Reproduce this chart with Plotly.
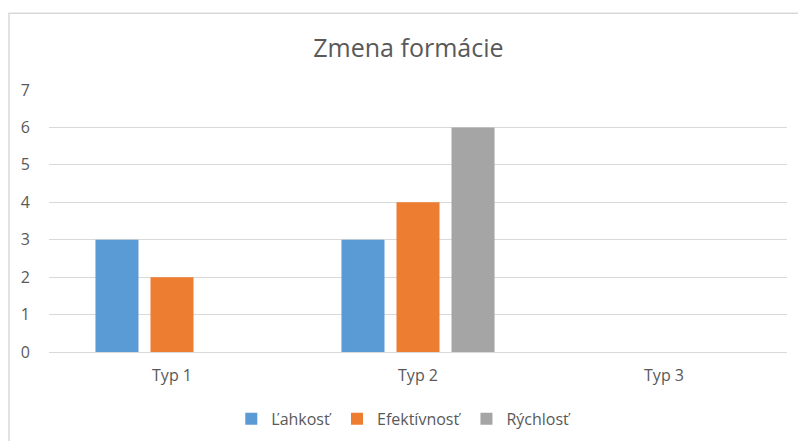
import plotly.graph_objects as go

# Data
categories = ["Typ 1", "Typ 2", "Typ 3"]
lahkost = [3, 3, None]
efektivnost = [2, 4, None]
rychlost = [None, 6, None]

TEXT = "#595959"
GRID = "#d9d9d9"
FONT = "Open Sans"

fig = go.Figure()

fig.add_trace(go.Bar(x=categories, y=lahkost, name="Ľahkosť",
                     marker=dict(color="#5B9BD5", line=dict(width=0))))
fig.add_trace(go.Bar(x=categories, y=efektivnost, name="Efektívnosť",
                     marker=dict(color="#ED7D31", line=dict(width=0))))
fig.add_trace(go.Bar(x=categories, y=rychlost, name="Rýchlosť",
                     marker=dict(color="#A5A5A5", line=dict(width=0))))

# chart area border (Excel style)
fig.add_shape(type="rect", xref="paper", yref="paper",
              x0=-0.0542, x1=1.2, y0=-0.6, y1=1.293,
              line=dict(color=GRID, width=1.5), layer="below")

fig.update_layout(
    width=798,
    height=441,
    margin=dict(l=49, r=11, t=90, b=89),
    paper_bgcolor="white",
    plot_bgcolor="white",
    font=dict(family=FONT, size=16, color=TEXT),
    title=dict(text="Zmena formácie", x=0.487, xref="paper", xanchor="center",
               y=0.89, yref="container", yanchor="middle",
               font=dict(family=FONT, size=25, color=TEXT)),
    barmode="group",
    bargap=0.329,
    bargroupgap=0.218,
    showlegend=True,
    legend=dict(orientation="h", x=0.506, xref="container", xanchor="center",
                y=0.05, yref="container", yanchor="middle",
                font=dict(size=16, color=TEXT), bgcolor="rgba(0,0,0,0)"),
    hovermode=False,
)

fig.update_xaxes(showgrid=False, showline=False, zeroline=False,
                 ticks="", ticklabelstandoff=12,
                 tickfont=dict(size=16, color=TEXT))
fig.update_yaxes(range=[0, 7], dtick=1, showgrid=True, gridcolor=GRID,
                 gridwidth=1, zeroline=True, zerolinecolor=GRID,
                 zerolinewidth=1, showline=False, ticks="",
                 ticklabelstandoff=18, tickfont=dict(size=16, color=TEXT))

# drop the browser's default body margin so the figure sits at 0,0
fig.write_html("out.html", config={"displayModeBar": False},
               post_script="document.body.style.margin='0';")
